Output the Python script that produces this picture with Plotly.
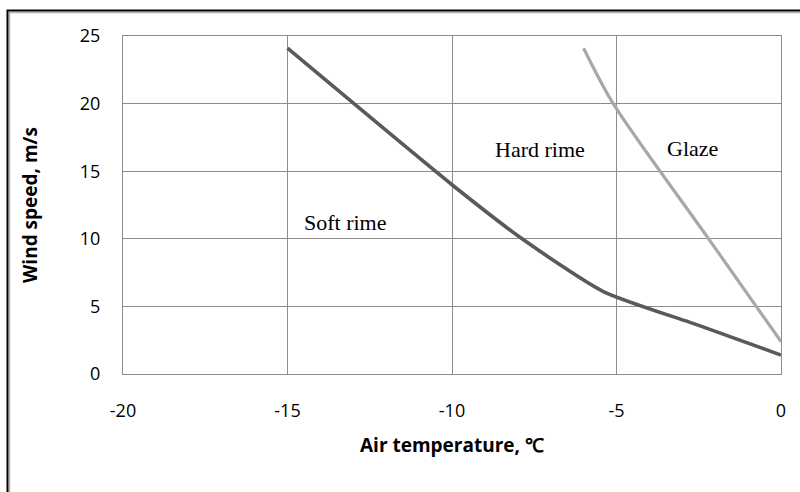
import plotly.graph_objects as go

# Boundary between soft rime and hard rime
rime_temp = [-15.0, -10.0, -7.87, -5.4, -2.5, 0.0]
rime_wind = [24.1, 14.0, 10.0, 6.1, 3.6, 1.4]

# Boundary between hard rime and glaze
glaze_temp = [-6.0, -5.1, -2.2, 0.0]
glaze_wind = [24.1, 20.0, 10.0, 2.4]

# Region labels
region_names = ["Soft rime", "Hard rime", "Glaze"]
region_temp = [-13.25, -7.33, -2.7]
region_wind = [11.2, 16.6, 16.7]

x_ticks = [-20, -15, -10, -5, 0]
y_ticks = [0, 5, 10, 15, 20, 25]

W, H = 800, 492
ML, MR, MT, MB = 123, 19, 36, 118
PW, PH = W - ML - MR, H - MT - MB

def px_x(p):
    return (p - ML) / PW

def px_y(p):
    return (H - MB - p) / PH

fig = go.Figure()
fig.add_trace(go.Scatter(
    x=rime_temp, y=rime_wind, mode="lines",
    line=dict(color="#5a5a5a", width=3.6, shape="spline", smoothing=0.6),
    showlegend=False, hoverinfo="skip"))
fig.add_trace(go.Scatter(
    x=glaze_temp, y=glaze_wind, mode="lines",
    line=dict(color="#a8a8a8", width=3.2, shape="spline", smoothing=0.8),
    showlegend=False, hoverinfo="skip"))

for name, tx, wy in zip(region_names, region_temp, region_wind):
    fig.add_annotation(x=tx, y=wy, text=name, showarrow=False,
                       xanchor="center", yanchor="middle",
                       font=dict(family="Liberation Serif", size=22, color="#000000"))

axis_font = dict(family="Open Sans", size=18, color="#000000")
title_font = dict(family="Open Sans", size=19, color="#000000")

fig.add_annotation(xref="paper", yref="paper", x=0.5, y=px_y(445),
                   xanchor="center", yanchor="middle",
                   text="<b>Air temperature, ℃</b>", showarrow=False, font=title_font)
fig.add_annotation(xref="paper", yref="paper", x=px_x(30), y=0.5, textangle=-90,
                   xanchor="center", yanchor="middle",
                   text="<b>Wind speed, m/s</b>", showarrow=False, font=title_font)

# Outer frame with soft shadow
fig.add_shape(type="rect", xref="paper", yref="paper",
              x0=px_x(9.5), x1=px_x(820), y0=px_y(12.5), y1=px_y(520),
              line=dict(color="#b0b0b0", width=1.5), layer="below")
fig.add_shape(type="rect", xref="paper", yref="paper",
              x0=px_x(7.5), x1=px_x(820), y0=px_y(10.5), y1=px_y(520),
              line=dict(color="#000000", width=2), layer="below")

grid = "#8c8c8c"
fig.update_xaxes(range=[-20, 0], tickvals=x_ticks, ticktext=[str(v) for v in x_ticks],
                 showgrid=True, gridcolor=grid, gridwidth=1,
                 showline=True, linecolor=grid, linewidth=1, mirror=True,
                 zeroline=False, ticks="", tickfont=axis_font, ticklabelstandoff=20)
fig.update_yaxes(range=[0, 25], tickvals=y_ticks, ticktext=[str(v) for v in y_ticks],
                 showgrid=True, gridcolor=grid, gridwidth=1,
                 showline=True, linecolor=grid, linewidth=1, mirror=True,
                 zeroline=False, ticks="", tickfont=axis_font, ticklabelstandoff=18)

fig.update_layout(width=W, height=H,
                  margin=dict(l=ML, r=MR, t=MT, b=MB),
                  paper_bgcolor="#ffffff", plot_bgcolor="#ffffff",
                  showlegend=False)

fig.write_html("out.html")
